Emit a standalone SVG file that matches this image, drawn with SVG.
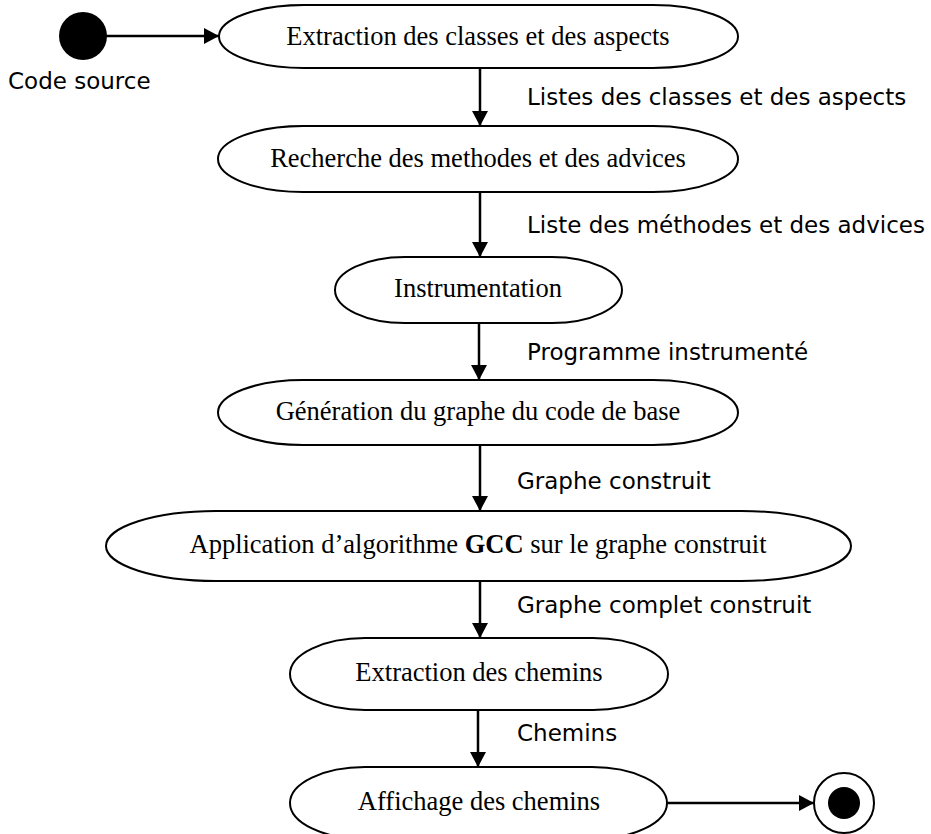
<svg xmlns="http://www.w3.org/2000/svg" width="931" height="834" viewBox="0 0 931 834">
  <style>
    .act { fill: #fff; stroke: #000; stroke-width: 2; }
    .act-text { font-family: "Liberation Serif", "Times New Roman", serif; font-size: 26.5px; fill: #000; text-anchor: middle; }
    .flow { stroke: #000; stroke-width: 2.5; fill: none; marker-end: url(#arrow); }
    .flow-label { font-family: "DejaVu Sans", Tahoma, sans-serif; font-size: 23px; fill: #000; }
  </style>
  <defs>
    <marker id="arrow" viewBox="0 0 15 16" refX="15" refY="8" markerWidth="15" markerHeight="16" markerUnits="userSpaceOnUse" orient="auto">
      <path d="M0,0 L15,8 L0,16 z" fill="#000"/>
    </marker>
  </defs>

  <rect width="931" height="834" fill="#fff"/>

  <!-- control flows between the activities -->
  <g id="connectors">
    <line class="flow" x1="106" y1="36" x2="219" y2="36"/>
    <line class="flow" x1="480" y1="68" x2="480" y2="126"/>
    <line class="flow" x1="480" y1="192" x2="480" y2="257"/>
    <line class="flow" x1="479" y1="323" x2="479" y2="380"/>
    <line class="flow" x1="480" y1="445" x2="480" y2="511"/>
    <line class="flow" x1="480" y1="581" x2="480" y2="638"/>
    <line class="flow" x1="478" y1="710" x2="478" y2="767"/>
    <line class="flow" x1="667" y1="803" x2="814" y2="803"/>
    <text class="flow-label" x="527" y="105">Listes des classes et des aspects</text>
    <text class="flow-label" x="527" y="233">Liste des méthodes et des advices</text>
    <text class="flow-label" x="527" y="360">Programme instrumenté</text>
    <text class="flow-label" x="517" y="489">Graphe construit</text>
    <text class="flow-label" x="517" y="613">Graphe complet construit</text>
    <text class="flow-label" x="517" y="741">Chemins</text>
  </g>

  <!-- initial state -->
  <g id="start">
    <circle cx="83" cy="36" r="24" fill="#000"/>
    <text class="flow-label" x="8" y="89">Code source</text>
  </g>

  <g id="extraction-classes">
    <rect class="act" x="219" y="5" width="519" height="63" rx="85" ry="31.5"/>
    <text class="act-text" x="478" y="45">Extraction des classes et des aspects</text>
  </g>

  <g id="recherche-methodes">
    <rect class="act" x="218" y="126" width="520" height="66" rx="85" ry="33"/>
    <text class="act-text" x="478" y="167">Recherche des methodes et des advices</text>
  </g>

  <g id="instrumentation">
    <rect class="act" x="335" y="257" width="287" height="66" rx="70" ry="33"/>
    <text class="act-text" x="478" y="297">Instrumentation</text>
  </g>

  <g id="generation-graphe">
    <rect class="act" x="218" y="380" width="520" height="65" rx="85" ry="32.5"/>
    <text class="act-text" x="478" y="420">Génération du graphe du code de base</text>
  </g>

  <g id="application-gcc">
    <rect class="act" x="106" y="511" width="745" height="70" rx="110" ry="35"/>
    <text class="act-text" x="478" y="553">Application d’algorithme <tspan font-weight="bold">GCC</tspan> sur le graphe construit</text>
  </g>

  <g id="extraction-chemins">
    <rect class="act" x="290" y="638" width="378" height="72" rx="75" ry="36"/>
    <text class="act-text" x="479" y="681">Extraction des chemins</text>
  </g>

  <g id="affichage-chemins">
    <rect class="act" x="290" y="767" width="377" height="72" rx="75" ry="36"/>
    <text class="act-text" x="479" y="810">Affichage des chemins</text>
  </g>

  <!-- final state -->
  <g id="end">
    <circle cx="844" cy="803" r="30" fill="#fff" stroke="#000" stroke-width="2"/>
    <circle cx="844" cy="803" r="16" fill="#000"/>
  </g>
</svg>
